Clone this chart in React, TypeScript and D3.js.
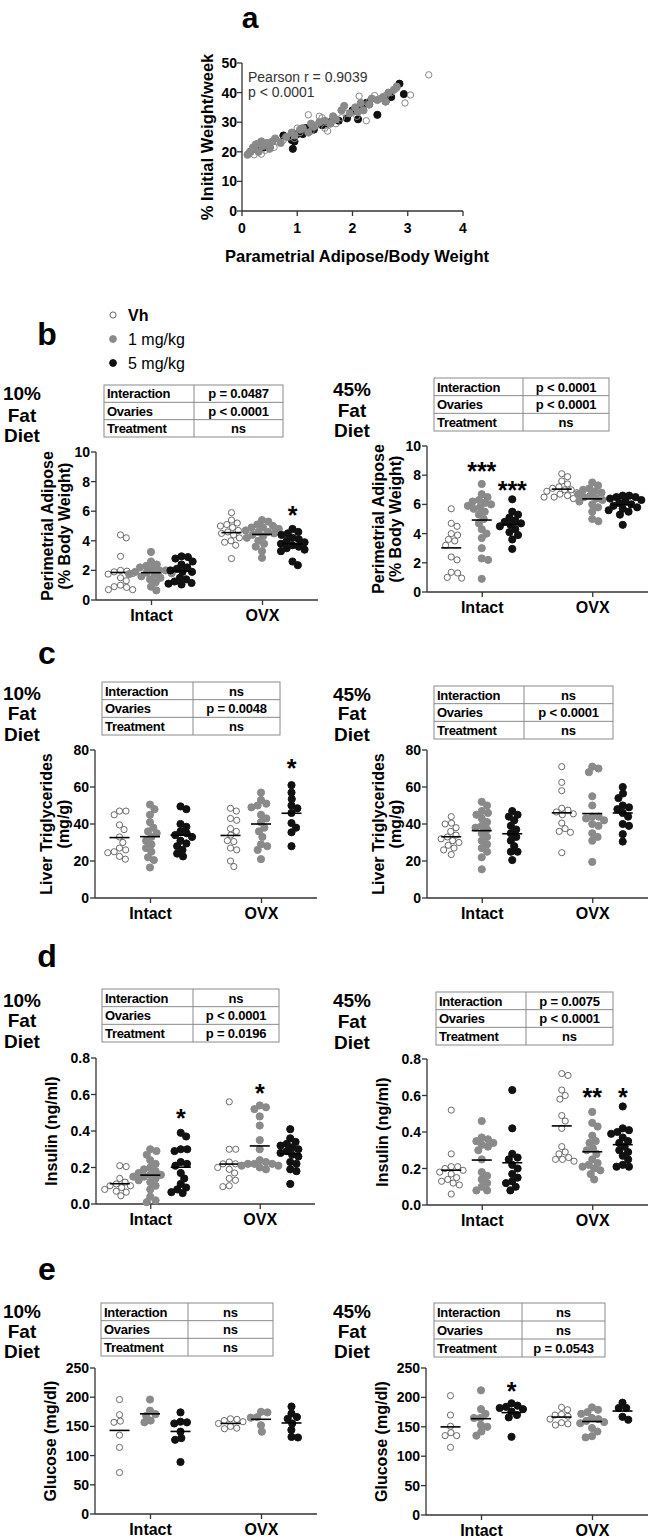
import React from "react";
import * as d3 from "d3";

const FONT = "Arial, 'Liberation Sans', Helvetica, sans-serif";
const CATS = ["Intact", "OVX"];
const GROUPS = ["Vh", "1 mg/kg", "5 mg/kg"];
const TABLE_ROWS = ["Interaction", "Ovaries", "Treatment"];

// ---------- panel a: scatter ----------
const scatterVh: [number, number][] = [
  [0.12, 19.5], [0.18, 20.5], [0.22, 19], [0.3, 21.5], [0.35, 19.2], [0.42, 20.5], [0.5, 22], [0.58, 21.5],
  [0.65, 23.5], [0.75, 24], [0.85, 25], [0.95, 24.5], [1.05, 26.5], [1.2, 32.5], [1.25, 27], [1.35, 29],
  [1.45, 31.5], [1.5, 28], [1.55, 27], [1.62, 30], [1.7, 29.5], [1.8, 31.5], [1.9, 33], [2.0, 33.5],
  [2.08, 32], [2.12, 38.8], [2.2, 35], [2.25, 30.5], [2.3, 37], [2.4, 39], [2.5, 38], [2.6, 39],
  [2.7, 40], [2.8, 41.5], [2.95, 36.5], [3.05, 39.2], [3.38, 46], [0.28, 22.8], [1.0, 28], [1.4, 32],
];
const scatter1mg: [number, number][] = [
  [0.1, 19], [0.15, 20], [0.2, 21.5], [0.25, 22.5], [0.3, 20], [0.38, 22], [0.45, 23], [0.55, 23.5],
  [0.6, 24.5], [0.7, 23], [0.8, 25], [0.9, 26.5], [0.95, 25.5], [1.05, 27.5], [1.1, 28], [1.2, 26.5],
  [1.3, 28.5], [1.4, 30], [1.5, 30.5], [1.6, 29.5], [1.7, 31], [1.8, 34], [1.85, 35.5], [1.95, 33],
  [2.05, 35], [2.15, 36.5], [2.2, 34], [2.3, 36], [2.35, 38], [2.45, 37.5], [2.55, 38.5], [2.65, 40],
  [2.75, 41], [2.8, 42], [0.35, 23.5], [0.5, 21], [1.25, 29.5], [1.65, 32], [2.1, 33.5], [2.6, 37],
];
const scatter5mg: [number, number][] = [
  [0.15, 20], [0.25, 21], [0.4, 21.5], [0.45, 22.5], [0.5, 21.5], [0.75, 25.5], [0.9, 24], [0.92, 21],
  [0.95, 23.5], [1.0, 26], [1.15, 28], [1.3, 27.5], [1.45, 29], [1.6, 30], [1.75, 30.5], [1.9, 31.3],
  [2.0, 34], [2.1, 31], [2.15, 35.5], [2.3, 36], [2.45, 32.5], [2.6, 37], [2.7, 38.5], [2.85, 43],
  [2.93, 39.5], [1.1, 26], [1.55, 29.5], [2.25, 36.5],
];
const scatterXTicks = [0, 1, 2, 3, 4];
const scatterYTicks = [0, 10, 20, 30, 40, 50];

// ---------- panel b: perimetrial adipose ----------
// order: Intact Vh, Intact 1, Intact 5, OVX Vh, OVX 1, OVX 5
const adipose10: number[][] = [
  [4.4, 4.2, 2.95, 2.0, 1.95, 1.9, 1.8, 1.75, 1.5, 1.3, 1.0, 0.9, 0.85, 0.7, 0.7],
  [3.25, 2.6, 2.4, 2.3, 2.2, 2.1, 2.0, 2.0, 1.9, 1.85, 1.8, 1.75, 1.7, 1.6, 1.5, 1.4, 1.2, 0.9, 0.65],
  [2.95, 2.9, 2.8, 2.6, 2.4, 2.2, 2.1, 2.0, 1.9, 1.9, 1.5, 1.4, 1.25, 1.15, 1.1, 1.05],
  [5.9, 5.4, 5.2, 5.1, 5.0, 4.9, 4.7, 4.6, 4.5, 4.4, 4.2, 4.0, 3.9, 3.7, 2.8],
  [5.4, 5.3, 5.1, 5.0, 4.9, 4.9, 4.8, 4.7, 4.6, 4.6, 4.5, 4.4, 4.3, 4.2, 4.0, 3.8, 3.6, 3.3, 2.85],
  [4.8, 4.6, 4.5, 4.4, 4.2, 4.1, 4.0, 3.9, 3.8, 3.7, 3.6, 3.5, 3.4, 3.3, 2.6, 2.35],
];
const adipose45: number[][] = [
  [5.7, 4.7, 4.5, 4.0, 3.9, 3.6, 3.5, 3.2, 2.4, 2.2, 1.35, 1.3, 1.0, 0.95],
  [7.4, 6.7, 6.5, 6.3, 6.2, 6.1, 6.0, 5.9, 5.8, 5.7, 5.5, 5.3, 5.0, 4.7, 4.3, 4.0, 3.7, 3.0, 2.3, 2.2, 0.9],
  [6.35, 5.5, 5.3, 5.1, 4.9, 4.8, 4.7, 4.6, 4.5, 4.3, 4.1, 3.9, 3.6, 2.95],
  [8.1, 7.9, 7.6, 7.4, 7.2, 7.1, 7.0, 7.0, 6.9, 6.8, 6.7, 6.6, 6.5, 6.5, 6.4],
  [7.5, 7.3, 7.1, 7.0, 6.9, 6.8, 6.7, 6.6, 6.5, 6.4, 6.3, 6.2, 6.0, 5.8, 5.5, 5.0, 4.85],
  [6.6, 6.6, 6.5, 6.5, 6.4, 6.3, 6.2, 6.1, 6.0, 5.9, 5.8, 5.7, 5.6, 5.5, 5.3, 4.6],
];
const adipose10Stats = ["p = 0.0487", "p < 0.0001", "ns"];
const adipose45Stats = ["p < 0.0001", "p < 0.0001", "ns"];
const adipose10Stars = [{ cat: "OVX", group: 2, value: 6.1, text: "*" }];
const adipose45Stars = [
  { cat: "Intact", group: 1, value: 8.6, text: "***" },
  { cat: "Intact", group: 2, value: 7.3, text: "***" },
];
const adiposeTicks = [0, 2, 4, 6, 8, 10];

// ---------- panel c: liver triglycerides ----------
const trig10: number[][] = [
  [47, 47, 45, 39.5, 37, 33, 30, 27, 26, 25, 24.5, 22.5, 21],
  [50.5, 48, 45, 41, 38, 36, 35, 33, 31, 29, 27, 25, 22, 20.5, 16.5],
  [49.5, 48, 40, 38.5, 36, 35, 34, 33, 31, 29.5, 28, 26, 24, 22.5],
  [48.5, 47, 43, 42, 37.5, 36, 34, 31, 30.5, 27, 26, 20, 17],
  [57, 53, 51, 50, 49, 45, 43, 41, 38, 36, 33, 29, 28, 26, 21],
  [61, 57, 53.5, 50, 48.5, 46, 40.5, 38, 35.5, 28],
];
const trig45: number[][] = [
  [44, 40.5, 40, 38, 36, 34, 33, 32, 31, 30, 28.5, 27, 26, 23.5],
  [52, 50, 47, 46, 45, 43, 41, 39, 38, 37, 35, 33, 31, 29, 27, 25, 22, 15.5],
  [47, 45, 44, 42, 39, 37, 35, 33, 31, 28, 25, 25, 20.5],
  [71, 62.5, 58, 48.5, 47.5, 46.5, 45.5, 45, 40.5, 37.5, 36, 35.5, 24.5],
  [71, 70, 68, 55, 50, 44, 44, 43, 42, 40, 39, 35, 33, 31, 19.5],
  [60, 56.5, 54, 50, 49, 48, 46, 44, 40, 39, 34.5, 30.5],
];
const trig10Stats = ["ns", "p = 0.0048", "ns"];
const trig45Stats = ["ns", "p < 0.0001", "ns"];
const trig10Stars = [{ cat: "OVX", group: 2, value: 73, text: "*" }];
const trig45Stars: { cat: string; group: number; value: number; text: string }[] = [];
const trigTicks = [0, 20, 40, 60, 80];

// ---------- panel d: insulin ----------
const insulin10: number[][] = [
  [0.21, 0.205, 0.14, 0.12, 0.11, 0.1, 0.1, 0.09, 0.08, 0.07, 0.065, 0.045],
  [0.3, 0.29, 0.27, 0.24, 0.22, 0.2, 0.19, 0.18, 0.17, 0.16, 0.16, 0.15, 0.15, 0.14, 0.13, 0.12, 0.1, 0.08, 0.04, 0.02, 0.01],
  [0.39, 0.37, 0.3, 0.3, 0.29, 0.23, 0.22, 0.21, 0.17, 0.14, 0.11, 0.09, 0.08, 0.065, 0.06],
  [0.56, 0.3, 0.3, 0.23, 0.22, 0.22, 0.21, 0.2, 0.19, 0.17, 0.14, 0.13, 0.1, 0.095],
  [0.54, 0.53, 0.52, 0.48, 0.43, 0.35, 0.3, 0.24, 0.23, 0.22, 0.22, 0.22, 0.21, 0.21, 0.2, 0.19],
  [0.41, 0.36, 0.34, 0.33, 0.32, 0.31, 0.3, 0.29, 0.28, 0.27, 0.26, 0.23, 0.22, 0.19, 0.18, 0.11],
];
const insulin45: number[][] = [
  [0.52, 0.28, 0.21, 0.21, 0.2, 0.19, 0.18, 0.17, 0.15, 0.14, 0.13, 0.12, 0.11, 0.06],
  [0.46, 0.37, 0.36, 0.35, 0.34, 0.33, 0.32, 0.3, 0.25, 0.18, 0.16, 0.14, 0.12, 0.1, 0.08, 0.08],
  [0.63, 0.42, 0.28, 0.26, 0.25, 0.22, 0.2, 0.17, 0.15, 0.13, 0.12, 0.1, 0.08],
  [0.72, 0.71, 0.63, 0.6, 0.58, 0.49, 0.46, 0.42, 0.32, 0.29, 0.28, 0.26, 0.25, 0.25, 0.24],
  [0.51, 0.45, 0.43, 0.38, 0.35, 0.34, 0.31, 0.3, 0.28, 0.25, 0.23, 0.22, 0.21, 0.2, 0.19, 0.17, 0.14],
  [0.54, 0.42, 0.41, 0.4, 0.39, 0.37, 0.35, 0.34, 0.32, 0.3, 0.29, 0.27, 0.25, 0.22, 0.21, 0.21],
];
const insulin10Stats = ["ns", "p < 0.0001", "p = 0.0196"];
const insulin45Stats = ["p = 0.0075", "p < 0.0001", "ns"];
const insulin10Stars = [
  { cat: "Intact", group: 2, value: 0.5, text: "*" },
  { cat: "OVX", group: 1, value: 0.635, text: "*" },
];
const insulin45Stars = [
  { cat: "OVX", group: 1, value: 0.62, text: "**" },
  { cat: "OVX", group: 2, value: 0.62, text: "*" },
];
const insulinTicks = [0, 0.2, 0.4, 0.6, 0.8];

// ---------- panel e: glucose ----------
const glucose10: number[][] = [
  [196, 170, 159, 157, 135, 114, 71],
  [196, 177, 171, 168, 160, 157],
  [174, 158, 157, 155, 141, 130, 127, 89],
  [163, 162, 160, 158, 155, 150, 147, 146],
  [175, 174, 166, 165, 152, 141],
  [184, 172, 166, 163, 155, 144, 132, 131],
];
const glucose45: number[][] = [
  [203, 170, 151, 140, 135, 135, 115],
  [212, 180, 172, 165, 165, 153, 150, 142, 135],
  [190, 186, 184, 182, 180, 176, 170, 166, 133],
  [183, 179, 171, 170, 168, 163, 157, 155, 153],
  [183, 179, 175, 172, 165, 163, 160, 158, 156, 148, 142, 134, 132],
  [191, 182, 182, 167, 162],
];
const glucose10Stats = ["ns", "ns", "ns"];
const glucose45Stats = ["ns", "ns", "p = 0.0543"];
const glucose10Stars: { cat: string; group: number; value: number; text: string }[] = [];
const glucose45Stars = [{ cat: "Intact", group: 2, value: 219, text: "*" }];
const glucoseTicks = [0, 50, 100, 150, 200, 250];

// ---------- styles ----------
const STYLE = [
  { fill: "none", stroke: "#6a6a6a" },
  { fill: "#8a8a8a", stroke: "#8a8a8a" },
  { fill: "#111", stroke: "#111" },
];
const AXIS = "#333";

type Star = { cat: string; group: number; value: number; text: string };
type Layout = {
  data: number[][];
  stats: string[];
  stars: Star[];
  ticks: number[];
  fmt: (d: number) => string;
  title: string[];
  diet: string;
  dietX: number;
  dietBase: number[];
  x0: number; x1: number; yTop: number; yBot: number;
  tb: { x0: number; x1: number; y0: number; y1: number; div: number };
};

const int = (d: number) => String(d);
const f1 = d3.format(".1f");

const layouts: Layout[] = [
  { data: adipose10, stats: adipose10Stats, stars: adipose10Stars, ticks: adiposeTicks, fmt: int,
    title: ["Perimetrial Adipose", "(% Body Weight)"], diet: "10%", dietX: 22, dietBase: [400, 422, 442],
    x0: 96, x1: 318, yTop: 452, yBot: 600, tb: { x0: 104, x1: 283, y0: 385, y1: 437, div: 194 } },
  { data: adipose45, stats: adipose45Stats, stars: adipose45Stars, ticks: adiposeTicks, fmt: int,
    title: ["Perimetrial Adipose", "(% Body Weight)"], diet: "45%", dietX: 352, dietBase: [396, 417, 437],
    x0: 427, x1: 648, yTop: 446, yBot: 592, tb: { x0: 434, x1: 609, y0: 378, y1: 431, div: 523 } },
  { data: trig10, stats: trig10Stats, stars: trig10Stars, ticks: trigTicks, fmt: int,
    title: ["Liver Triglycerides", "(mg/g)"], diet: "10%", dietX: 22, dietBase: [700, 720, 741],
    x0: 95, x1: 317, yTop: 750, yBot: 898, tb: { x0: 102, x1: 280, y0: 682, y1: 735, div: 193 } },
  { data: trig45, stats: trig45Stats, stars: trig45Stars, ticks: trigTicks, fmt: int,
    title: ["Liver Triglycerides", "(mg/g)"], diet: "45%", dietX: 352, dietBase: [701, 720, 741],
    x0: 427, x1: 648, yTop: 750, yBot: 898, tb: { x0: 434, x1: 613, y0: 686, y1: 739, div: 524 } },
  { data: insulin10, stats: insulin10Stats, stars: insulin10Stars, ticks: insulinTicks, fmt: f1,
    title: ["Insulin (ng/ml)"], diet: "10%", dietX: 22, dietBase: [1007, 1027, 1048],
    x0: 96, x1: 315, yTop: 1058, yBot: 1204, tb: { x0: 102, x1: 279, y0: 989, y1: 1042, div: 193 } },
  { data: insulin45, stats: insulin45Stats, stars: insulin45Stars, ticks: insulinTicks, fmt: f1,
    title: ["Insulin (ng/ml)"], diet: "45%", dietX: 352, dietBase: [1007, 1028, 1049],
    x0: 427, x1: 648, yTop: 1059, yBot: 1205, tb: { x0: 436, x1: 613, y0: 992, y1: 1045, div: 526 } },
  { data: glucose10, stats: glucose10Stats, stars: glucose10Stars, ticks: glucoseTicks, fmt: int,
    title: ["Glucose (mg/dl)"], diet: "10%", dietX: 22, dietBase: [1318, 1338, 1358],
    x0: 95, x1: 317, yTop: 1368, yBot: 1514, tb: { x0: 101, x1: 273, y0: 1303, y1: 1356, div: 188 } },
  { data: glucose45, stats: glucose45Stats, stars: glucose45Stars, ticks: glucoseTicks, fmt: int,
    title: ["Glucose (mg/dl)"], diet: "45%", dietX: 352, dietBase: [1318, 1338, 1358],
    x0: 426, x1: 648, yTop: 1368, yBot: 1515, tb: { x0: 434, x1: 605, y0: 1303, y1: 1357, div: 522 } },
];

const R = 3.6;

function swarm(ys: number[], r: number): number[] {
  const d = r * 2 * 0.9;
  const order = ys.map((_, i) => i).sort((a, b) => ys[a] - ys[b]);
  const placed: { x: number; y: number }[] = [];
  const xs = new Array(ys.length).fill(0);
  for (const i of order) {
    const y = ys[i];
    const near = placed.filter((p) => Math.abs(p.y - y) < d);
    const cands = [0];
    for (const p of near) {
      const dx = Math.sqrt(d * d - (p.y - y) ** 2);
      cands.push(p.x + dx, p.x - dx);
    }
    cands.sort((a, b) => Math.abs(a) - Math.abs(b));
    let chosen = 0;
    for (const c of cands) {
      if (near.every((p) => (p.x - c) ** 2 + (p.y - y) ** 2 >= d * d - 0.01)) { chosen = c; break; }
    }
    xs[i] = chosen;
    placed.push({ x: chosen, y });
  }
  return xs;
}

function DotPanel({ L }: { L: Layout }) {
  const y = d3.scaleLinear().domain([L.ticks[0], L.ticks[L.ticks.length - 1]]).range([L.yBot, L.yTop]);
  const x = d3.scalePoint<string>().domain(CATS).range([L.x0, L.x1]).padding(0.5);
  const g = d3.scalePoint<number>().domain([0, 1, 2]).range([-31, 30]);
  const t = L.tb;
  const rowH = (t.y1 - t.y0) / 3;
  const titleCy = (L.yTop + L.yBot) / 2;
  return (
    <g>
      {/* diet label */}
      {[L.diet, "Fat", "Diet"].map((s, i) => (
        <text key={s} x={L.dietX} y={L.dietBase[i]} textAnchor="middle" fontSize={19} fontWeight="bold">{s}</text>
      ))}
      {/* stats table */}
      <rect x={t.x0} y={t.y0} width={t.x1 - t.x0} height={t.y1 - t.y0} fill="none" stroke="#8a8a8a" strokeWidth={1} />
      <line x1={t.div} x2={t.div} y1={t.y0} y2={t.y1} stroke="#8a8a8a" />
      {[1, 2].map((k) => (
        <line key={k} x1={t.x0} x2={t.x1} y1={t.y0 + rowH * k} y2={t.y0 + rowH * k} stroke="#8a8a8a" />
      ))}
      {TABLE_ROWS.map((r, k) => (
        <g key={r}>
          <text x={t.x0 + 3} y={t.y0 + rowH * k + rowH / 2 + 4.7} fontSize={13} fontWeight="bold" letterSpacing={-0.3}>{r}</text>
          <text x={(t.div + t.x1) / 2} y={t.y0 + rowH * k + rowH / 2 + 4.7} fontSize={13} fontWeight="bold" textAnchor="middle" letterSpacing={-0.2}>{L.stats[k]}</text>
        </g>
      ))}
      {/* axes */}
      <line x1={L.x0} x2={L.x0} y1={L.yTop} y2={L.yBot} stroke={AXIS} strokeWidth={1.3} />
      <line x1={L.x0} x2={L.x1} y1={L.yBot} y2={L.yBot} stroke={AXIS} strokeWidth={1.3} />
      {L.ticks.map((v) => (
        <g key={v}>
          <line x1={L.x0 - 5} x2={L.x0} y1={y(v)} y2={y(v)} stroke={AXIS} strokeWidth={1.3} />
          <text x={L.x0 - 6} y={y(v) + 5} textAnchor="end" fontSize={14} fontWeight="bold">{L.fmt(v)}</text>
        </g>
      ))}
      {CATS.map((c) => (
        <g key={c}>
          <line x1={x(c)!} x2={x(c)!} y1={L.yBot} y2={L.yBot + 5} stroke={AXIS} strokeWidth={1.3} />
          <text x={x(c)!} y={L.yBot + 21} textAnchor="middle" fontSize={16} fontWeight="bold">{c}</text>
        </g>
      ))}
      {/* y title: baseline positions (rotated text extends leftwards from baseline) */}
      {L.title.map((s, i) => {
        const bx = L.title.length === 2 ? L.x0 - 43 + i * 17 : L.x0 - 39;
        return (
          <text key={s} transform={`translate(${bx},${titleCy}) rotate(-90)`} textAnchor="middle"
            fontSize={16} fontWeight="bold">{s}</text>
        );
      })}
      {/* points */}
      {L.data.map((vals, k) => {
        const cat = CATS[Math.floor(k / 3)];
        const gi = k % 3;
        const cx = x(cat)! + g(gi)!;
        const ys = vals.map((v) => y(v));
        const xs = swarm(ys, R);
        const m = d3.mean(vals)!;
        return (
          <g key={k}>
            {vals.map((v, j) => (
              <circle key={j} cx={cx + xs[j]} cy={ys[j]} r={gi === 0 ? R - 0.5 : R}
                fill={STYLE[gi].fill} stroke={STYLE[gi].stroke} strokeWidth={1} />
            ))}
            <line x1={cx - 10} x2={cx + 10} y1={y(m)} y2={y(m)} stroke="#000" strokeWidth={1.6} />
          </g>
        );
      })}
      {/* significance */}
      {L.stars.map((s, i) => (
        <text key={i} x={x(s.cat)! + g(s.group)!} y={y(s.value) + 14} textAnchor="middle" fontSize={25} fontWeight="bold">{s.text}</text>
      ))}
    </g>
  );
}

function ScatterPanel() {
  const x = d3.scaleLinear().domain([0, 4]).range([242, 463]);
  const y = d3.scaleLinear().domain([0, 50]).range([211, 63]);
  // draw order: 5 mg/kg first, then 1 mg/kg, then open Vh on top
  const series: { pts: [number, number][]; gi: number }[] = [
    { pts: scatter5mg, gi: 2 },
    { pts: scatter1mg, gi: 1 },
    { pts: scatterVh, gi: 0 },
  ];
  return (
    <g>
      <text x={250} y={28} textAnchor="middle" fontSize={30} fontWeight="bold">a</text>
      <line x1={x(0)} x2={x(0)} y1={y(50)} y2={y(0)} stroke={AXIS} strokeWidth={1.3} />
      <line x1={x(0)} x2={x(4)} y1={y(0)} y2={y(0)} stroke={AXIS} strokeWidth={1.3} />
      {scatterYTicks.map((v) => (
        <g key={v}>
          <line x1={x(0) - 5} x2={x(0)} y1={y(v)} y2={y(v)} stroke={AXIS} strokeWidth={1.3} />
          <text x={x(0) - 5} y={y(v) + 5} textAnchor="end" fontSize={14} fontWeight="bold">{v}</text>
        </g>
      ))}
      {scatterXTicks.map((v) => (
        <g key={v}>
          <line x1={x(v)} x2={x(v)} y1={y(0)} y2={y(0) + 5} stroke={AXIS} strokeWidth={1.3} />
          <text x={x(v)} y={233} textAnchor="middle" fontSize={14} fontWeight="bold">{v}</text>
        </g>
      ))}
      <text transform={`translate(213,137) rotate(-90)`} textAnchor="middle" fontSize={16.5} fontWeight="bold">% Initial Weight/week</text>
      <text x={357} y={262} textAnchor="middle" fontSize={16.5} fontWeight="bold">Parametrial Adipose/Body Weight</text>
      <text x={248} y={82} fontSize={14} fill="#333">Pearson r = 0.9039</text>
      <text x={248} y={97} fontSize={14} fill="#333">p &lt; 0.0001</text>
      {series.map(({ pts, gi }) =>
        pts.map((p, j) => (
          <circle key={`${gi}-${j}`} cx={x(p[0])} cy={y(p[1])} r={gi === 0 ? R - 0.4 : R}
            fill={STYLE[gi].fill} stroke={gi === 0 ? "#888" : STYLE[gi].stroke} strokeWidth={1} />
        ))
      )}
    </g>
  );
}

function Legend() {
  const rows = [315, 339, 363];
  return (
    <g>
      {GROUPS.map((name, i) => (
        <g key={name}>
          <circle cx={113} cy={rows[i]} r={i === 0 ? R - 0.5 : R - 0.2} fill={STYLE[i].fill} stroke={STYLE[i].stroke} strokeWidth={1} />
          <text x={128} y={rows[i] + 5.5} fontSize={16} fontWeight={i === 0 ? "bold" : "normal"}>{name}</text>
        </g>
      ))}
    </g>
  );
}

export default function App() {
  const labels = [
    { t: "b", y: 345 },
    { t: "c", y: 664 },
    { t: "d", y: 967 },
    { t: "e", y: 1280 },
  ];
  return (
    <svg width={655} height={1540} style={{ position: "absolute", left: 0, top: 0, display: "block", background: "#fff" }}
      fontFamily={FONT}>
      <rect width={655} height={1540} fill="#fff" />
      <ScatterPanel />
      <Legend />
      {labels.map((l) => (
        <text key={l.t} x={47} y={l.y} textAnchor="middle" fontSize={32} fontWeight="bold">{l.t}</text>
      ))}
      {layouts.map((L, i) => <DotPanel key={i} L={L} />)}
    </svg>
  );
}
